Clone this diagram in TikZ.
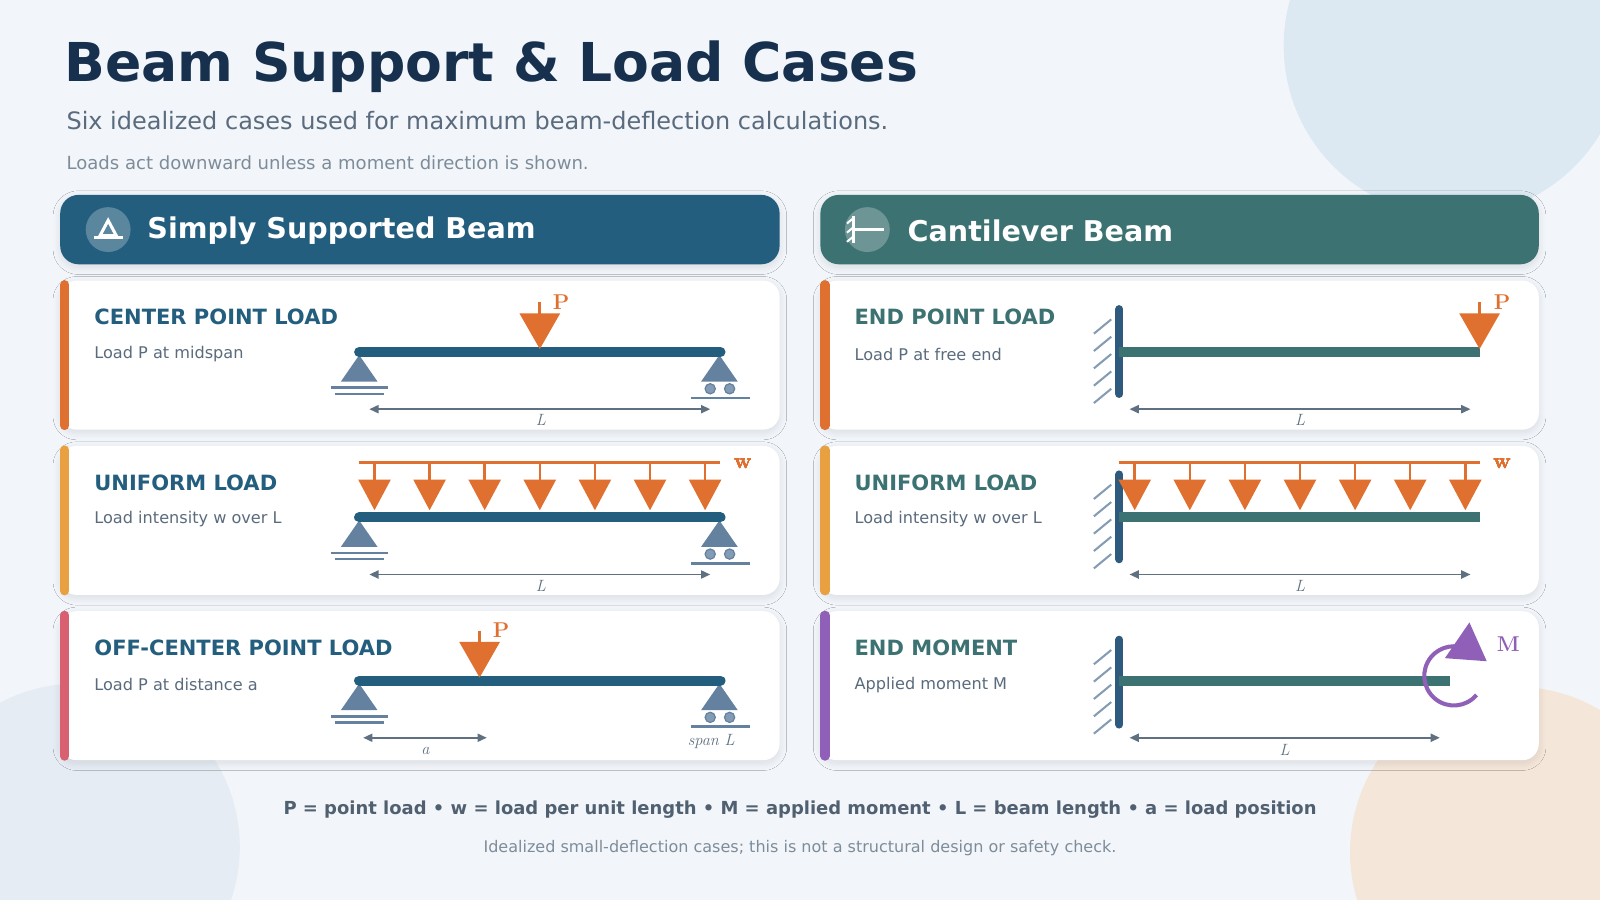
\documentclass[tikz,border=0pt]{standalone}
\usepackage{fontspec}
\setsansfont{DejaVu Sans}
\renewcommand\familydefault{\sfdefault}
\usetikzlibrary{arrows.meta,positioning,shadows.blur}
\definecolor{bgc}{HTML}{F2F6FA}
\definecolor{navy}{HTML}{16304D}
\definecolor{ssb}{HTML}{245E7E}
\definecolor{cant}{HTML}{3D7272}
\definecolor{wallc}{HTML}{2E5A7E}
\definecolor{supc}{HTML}{6482A0}
\definecolor{dimc}{HTML}{5F7080}
\definecolor{loadc}{HTML}{E07030}
\definecolor{ambc}{HTML}{E8A040}
\definecolor{rosec}{HTML}{D86070}
\definecolor{purc}{HTML}{9060B8}
\definecolor{greyt}{HTML}{5A6B7D}
\definecolor{lgreyt}{HTML}{7E8C9A}
\definecolor{blobA}{HTML}{DCE8F2}
\definecolor{blobB}{HTML}{E6ECF3}
\definecolor{blobC}{HTML}{F5E6DA}
\tikzset{
  soft/.style={blur shadow={shadow blur steps=10,shadow blur radius=7pt,shadow xshift=0pt,shadow yshift=-3pt,shadow opacity=10}},
  card/.style={fill=white,rounded corners=16pt,soft},
  ctitle/.style={anchor=west,font=\bfseries\fontsize{20.6}{23}\selectfont},
  csub/.style={anchor=west,text=greyt,font=\fontsize{15.8}{18}\selectfont},
  dim/.style={dimc,line width=1.5pt,{Triangle[length=9pt,width=8pt]}-{Triangle[length=9pt,width=8pt]}},
  dlab/.style={text=dimc,font=\fontsize{16}{18}\selectfont\rmfamily\itshape},
  llab/.style={text=loadc,font=\fontsize{21}{23}\selectfont\rmfamily\bfseries},
}
% supports and loads (x, y of contact point)
\newcommand\pinsup[2]{%
  \fill[supc] (#1,#2+3) -- (#1-18,#2+29) -- (#1+18,#2+29) -- cycle;
  \draw[supc,line width=2.5pt] (#1-28,#2+35) -- (#1+28,#2+35) (#1-24,#2+41) -- (#1+24,#2+41);}
\newcommand\rolsup[2]{%
  \fill[supc] (#1,#2+3) -- (#1-18,#2+29) -- (#1+18,#2+29) -- cycle;
  \filldraw[fill=supc!80,draw=supc,line width=1.2pt] (#1-9,#2+36) circle (5) (#1+10,#2+36) circle (5);
  \draw[supc,line width=2.5pt] (#1-28,#2+45) -- (#1+30,#2+45);}
\newcommand\pload[2]{%
  \draw[loadc,line width=3pt] (#1,#2-49) -- (#1,#2-36);
  \fill[loadc] (#1,#2-3) -- (#1-20,#2-38) -- (#1+20,#2-38) -- cycle;}
\newcommand\wload[2]{%
  \draw[loadc,line width=2.5pt] (#1,#2-50) -- (#1,#2-31);
  \fill[loadc] (#1,#2-3) -- (#1-16,#2-33) -- (#1+16,#2-33) -- cycle;}
\newcommand\wall[3]{%
  \foreach \h in {0,1,2,3,4}
    \draw[supc!80,line width=2pt] (#1-8,#2+10+\h*17) -- (#1-25,#2+24+\h*17);
  \draw[wallc,line width=8pt,line cap=round] (#1,#2) -- (#1,#3);}
\begin{document}
\begin{tikzpicture}[x=1pt,y=-1pt]
\useasboundingbox (0,0) rectangle (1568,882);
\fill[bgc] (0,0) rectangle (1568,882);
\begin{scope}
\clip (0,0) rectangle (1568,882);
\fill[blobA] (1425,45) circle (167);
\fill[blobB] (75,830) circle (160);
\fill[blobC] (1485,835) circle (162);
\end{scope}
% titles
\node[anchor=base west,inner sep=0,text=navy,font=\bfseries\fontsize{52.5}{58}\selectfont] (title) at (63,80) {Beam Support \& Load Cases};
\node[anchor=base west,inner sep=0,text=greyt,font=\fontsize{23.5}{27}\selectfont] (sub) at (65,127) {Six idealized cases used for maximum beam-deflection calculations.};
\node[anchor=base west,inner sep=0,text=lgreyt,font=\fontsize{17.7}{20}\selectfont] (note) at (65,166) {Loads act downward unless a moment direction is shown.};
% headers
\fill[ssb,rounded corners=18pt,soft] (59,191) rectangle (764,259);
\fill[cant,rounded corners=18pt,soft] (804,191) rectangle (1508,259);
\fill[white,opacity=0.25] (106,225) circle (22) (850,225) circle (22);
\draw[white,line width=3pt,line join=miter] (98,231) -- (106,216) -- (114,231) -- cycle;
\draw[white,line width=3pt] (92,233) -- (121,233);
\draw[white,line width=3pt] (836,212) -- (836,238) (836,225) -- (866,225);
\draw[white,line width=2pt] (836,214) -- (830,219) (836,223) -- (830,228) (836,232) -- (830,237);
\node[anchor=west,text=white,font=\bfseries\fontsize{28}{32}\selectfont] (hs) at (141,226) {Simply Supported Beam};
\node[anchor=west,text=white,font=\bfseries\fontsize{28}{32}\selectfont] (hc) at (886,226) {Cantilever Beam};
% cards
\foreach \y/\ca/\cb in {275/loadc/loadc,437/ambc/ambc,599/rosec/purc}{
  \fill[card] (59,\y) rectangle (764,\y+146);
  \fill[card] (804,\y) rectangle (1508,\y+146);
  \draw[\ca,line width=9pt,line cap=round] (63.5,\y+4) -- (63.5,\y+142);
  \draw[\cb,line width=9pt,line cap=round] (808.5,\y+4) -- (808.5,\y+142);
}
\node[ctitle,text=ssb] (t1) at (89,311) {CENTER POINT LOAD};
\node[csub] (s1) at (89,347) {Load P at midspan};
\node[ctitle,text=ssb] (t2) at (89,473) {UNIFORM LOAD};
\node[csub] (s2) at (89,509) {Load intensity w over L};
\node[ctitle,text=ssb] (t3) at (89,635) {OFF-CENTER POINT LOAD};
\node[csub] (s3) at (89,671) {Load P at distance a};
\node[ctitle,text=cant] (t4) at (834,311) {END POINT LOAD};
\node[csub] (s4) at (834,347) {Load P at free end};
\node[ctitle,text=cant] (t5) at (834,473) {UNIFORM LOAD};
\node[csub] (s5) at (834,509) {Load intensity w over L};
\node[ctitle,text=cant] (t6) at (834,635) {END MOMENT};
\node[csub] (s6) at (834,671) {Applied moment M};
% simply supported beams
\foreach \y in {345,507,667}{
  \pinsup{352}{\y} \rolsup{705}{\y}
  \draw[ssb,line width=10pt,line cap=round] (352,\y) -- (706,\y);
}
\pload{529}{345}
\node[llab] (p1) at (550,296) {P};
\coordinate (d1a) at (362,401); \coordinate (d1b) at (696,401);
\draw[dim] (d1a) -- (d1b);
\node[dlab] (l1) at (530,412) {L};
\draw[loadc,line width=3pt] (352,453) -- (706,453);
\foreach \x in {367,421,...,691} \wload{\x}{503}
\node[llab] (w1) at (728,455) {w};
\coordinate (d2a) at (362,563); \coordinate (d2b) at (696,563);
\draw[dim] (d2a) -- (d2b);
\node[dlab] (l2) at (530,574) {L};
\pload{470}{667}
\node[llab] (p3) at (491,618) {P};
\coordinate (d3a) at (356,723); \coordinate (d3b) at (477,723);
\draw[dim] (d3a) -- (d3b);
\node[dlab] (l3) at (417,736) {a};
\node[dlab] (l3b) at (697,727) {span L};
% cantilever beams
\wall{1097}{303}{386}
\draw[cant,line width=10pt] (1097,345) -- (1450,345);
\pload{1450}{345}
\node[llab] (p4) at (1472,296) {P};
\coordinate (d4a) at (1107,401); \coordinate (d4b) at (1441,401);
\draw[dim] (d4a) -- (d4b);
\node[dlab] (l4) at (1274,412) {L};
\wall{1097}{465}{548}
\draw[cant,line width=10pt] (1097,507) -- (1450,507);
\draw[loadc,line width=3pt] (1097,453) -- (1450,453);
\foreach \x in {1112,1166,...,1436} \wload{\x}{503}
\node[llab] (w2) at (1472,455) {w};
\coordinate (d5a) at (1107,563); \coordinate (d5b) at (1441,563);
\draw[dim] (d5a) -- (d5b);
\node[dlab] (l5) at (1274,574) {L};
\wall{1097}{627}{710}
\draw[cant,line width=10pt] (1097,667) -- (1421,667);
\draw[purc,line width=4pt] (1447,681) arc[start angle=40,end angle=300,radius=29];
\fill[purc] (1440,610) -- (1416,645) -- (1457,648) -- cycle;
\node[llab,text=purc] (m6) at (1478,631) {M};
\coordinate (d6a) at (1107,723); \coordinate (d6b) at (1411,723);
\draw[dim] (d6a) -- (d6b);
\node[dlab] (l6) at (1259,735) {L};
% footer
\node[text=greyt!90!black,font=\bfseries\fontsize{17.6}{20}\selectfont] (key) at (784,793) {P = point load • w = load per unit length • M = applied moment • L = beam length • a = load position};
\node[text=lgreyt,font=\fontsize{15.7}{18}\selectfont] (disc) at (784,831) {Idealized small-deflection cases; this is not a structural design or safety check.};
\end{tikzpicture}
\end{document}
